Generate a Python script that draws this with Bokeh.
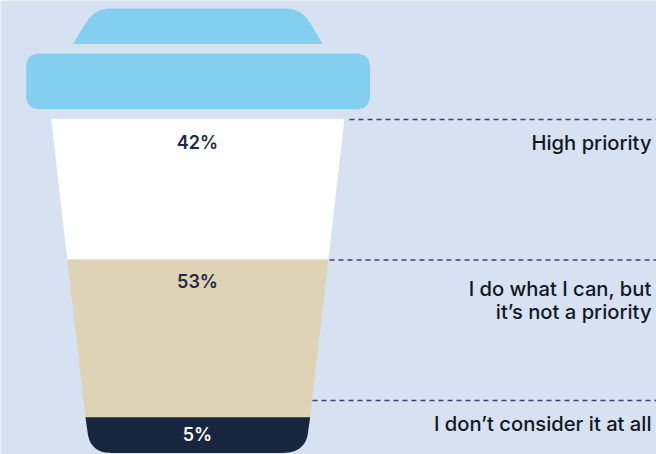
from bokeh.plotting import figure
from bokeh.embed import file_html
from bokeh.resources import INLINE
from bokeh.core.properties import value
from bokeh.models import Range1d

# Survey answers, from the top of the cup down
categories = ["High priority", "I do what I can, but\nit\u2019s not a priority", "I don\u2019t consider it at all"]
shares = [42, 53, 5]

# Cup outline in canvas units
CUP_LEVELS = [118.2, 259, 416.8, 452.4]
CUP_TOP_LEFT, CUP_TOP_RIGHT = 50.6, 344.0
TAPER = 0.115
SEGMENT_COLORS = ["#ffffff", "#dfd3b6", "#19263f"]
SHARE_COLORS = ["#1d2a44", "#1d2a44", "#ffffff"]
SHARE_Y = [141.5, 280.5, 433.5]
LABEL_Y = [142, 299.5, 423]
LEADER_Y = [119, 259.5, 400]
LEADER_X = [349, 329, 312]
LID = "#84cff0"
INK = "#121722"
BACKGROUND = "#d6e2f2"
LABEL_FONT = "Inter Medium"
SHARE_FONT = "Inter SemiBold"


def left_edge(y):
    return CUP_TOP_LEFT + TAPER * (y - CUP_LEVELS[0])


def right_edge(y):
    return CUP_TOP_RIGHT - TAPER * (y - CUP_LEVELS[0])


def bezier(p0, c, p1, n=14):
    """Quadratic curve between two points, as vertex lists."""
    ts = [i / n for i in range(n + 1)]
    xs = [(1 - t) ** 2 * p0[0] + 2 * t * (1 - t) * c[0] + t ** 2 * p1[0] for t in ts]
    ys = [(1 - t) ** 2 * p0[1] + 2 * t * (1 - t) * c[1] + t ** 2 * p1[1] for t in ts]
    return xs, ys


def chain(points):
    xs, ys = [], []
    for item in points:
        if len(item) == 2:
            xs.append(item[0])
            ys.append(item[1])
        else:
            bx, by = bezier(*item)
            xs += bx
            ys += by
    return xs, ys


def rounded_rect(x0, y0, x1, y1, r):
    return chain([
        ((x0, y0 + r), (x0, y0), (x0 + r, y0)),
        ((x1 - r, y0), (x1, y0), (x1, y0 + r)),
        ((x1, y1 - r), (x1, y1), (x1 - r, y1)),
        ((x0 + r, y1), (x0, y1), (x0, y1 - r)),
    ])


p = figure(width=656, height=454, output_backend="svg", toolbar_location=None,
           x_range=Range1d(0, 656), y_range=Range1d(454, 0),
           min_border=0, outline_line_color=None,
           background_fill_color=BACKGROUND, border_fill_color=BACKGROUND)
p.axis.visible = False
p.grid.visible = False

# Lid: upper cap and wide rim
cap_x, cap_y = chain([
    (72.6, 43.5),
    (85, 23),
    ((85, 23), (94, 8), (110, 8)),
    ((285, 8), (301, 8), (310, 23)),
    (322.2, 43.5),
])
p.patch(cap_x, cap_y, fill_color=LID, line_color=None)
rim_x, rim_y = rounded_rect(25.6, 53, 369.5, 108.7, 14)
p.patch(rim_x, rim_y, fill_color=LID, line_color=None)

# Cup body, one band per answer; the last band has rounded lower corners
for i, (top, bottom) in enumerate(zip(CUP_LEVELS[:-1], CUP_LEVELS[1:])):
    if i < len(shares) - 1:
        xs = [left_edge(top), right_edge(top), right_edge(bottom), left_edge(bottom)]
        ys = [top, top, bottom, bottom]
    else:
        xs, ys = chain([
            (left_edge(top), top),
            (right_edge(top), top),
            ((right_edge(top) - 2, top + 14), (right_edge(top) - 4, bottom), (right_edge(top) - 28, bottom)),
            ((left_edge(top) + 26, bottom), (left_edge(top) + 4, bottom), (left_edge(top) + 2, top + 14)),
        ])
    p.patch(xs, ys, fill_color=SEGMENT_COLORS[i], line_color=None)

# Dashed leaders running to the right edge
for x0, y in zip(LEADER_X, LEADER_Y):
    p.line([x0, 656], [y, y], line_color="#3f3f7c", line_width=1.3, line_dash="5 4")

# Percentages inside the cup
p.text(x=[197, 197, 197], y=SHARE_Y, text=[f"{v}%" for v in shares],
       text_font=value(SHARE_FONT), text_font_size="18px",
       text_align="center", text_baseline="middle", text_color=SHARE_COLORS)

# Answer labels, right aligned
p.text(x=[651, 651, 651], y=LABEL_Y, text=categories,
       text_font=value(LABEL_FONT), text_font_size="20.2px",
       text_align="right", text_baseline="middle", text_color=INK, text_line_height=0.95)

open("out.html", "w").write(file_html(p, INLINE))
